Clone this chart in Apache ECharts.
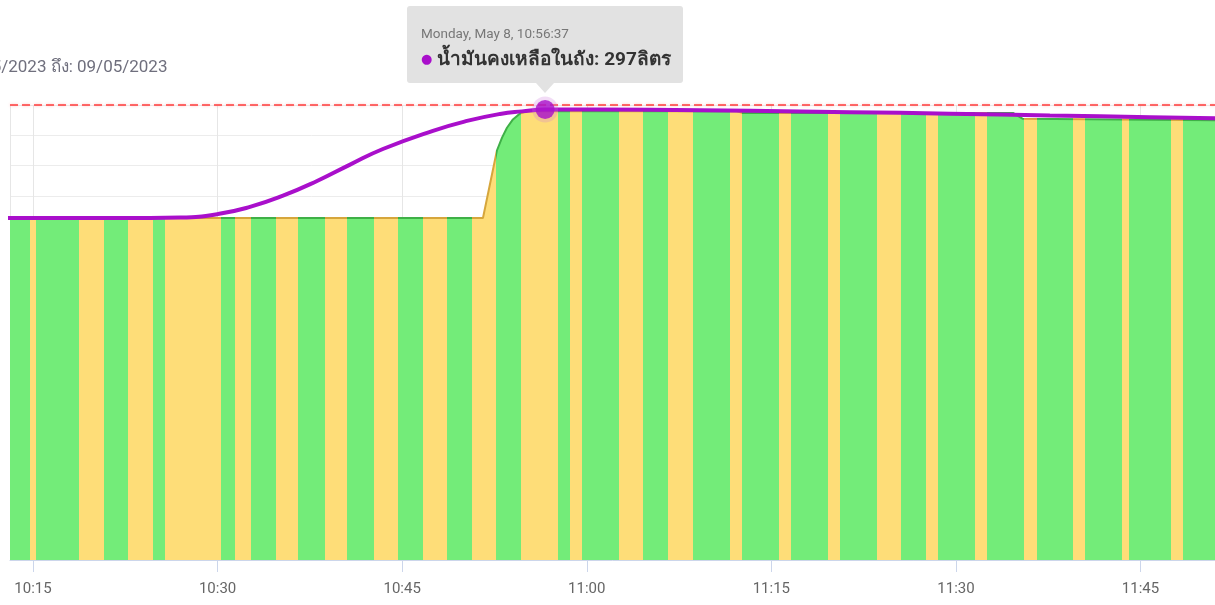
<!DOCTYPE html>
<html>
<head>
<meta charset="utf-8">
<script src="https://cdn.jsdelivr.net/npm/echarts@6/dist/echarts.min.js"></script>
<style>
html,body{margin:0;padding:0;background:#ffffff;}
#chart{width:1215px;height:605px;position:relative;}
</style>
</head>
<body>
<div id="chart"></div>
<script>
// ---------------- data ----------------
const chartDay = [2023, 4, 8];
const rangeText = '08/05/2023 ถึง: 09/05/2023';
const seriesName = 'น้ำมันคงเหลือในถัง';
const unitText = 'ลิตร';
const xRange = ['10:13:08', '11:51:03'];
const yMax = 300;
const yStep = 20;
const tankCapacity = 300;

// measured fuel level (zoned area)
const levelTimes  = ['10:12:00','10:51:34','10:52:42','10:53:07','10:53:31','10:54:00','10:54:34','10:55:08','10:56:37','11:12:12','11:12:37','11:34:38','11:35:26','11:52:00'];
const levelValues = [225.5,     225.5,     270.0,     278.5,     285.0,     290.5,     294.3,     295.8,     296.0,     295.8,     294.8,     294.8,     290.9,     289.9];

// smoothed remaining fuel (purple line)
const smoothTimes  = ['10:12:00','10:24:31','10:26:57','10:30:02','10:32:38','10:35:19','10:38:05','10:40:46','10:43:26','10:47:30','10:50:16','10:52:57','10:54:44','10:56:37','11:05:08','11:13:16','11:21:23','11:29:31','11:37:38','11:45:46','11:52:00'];
const smoothValues = [225.5,     225.5,     225.8,     228.1,     232.8,     240.2,     249.9,     260.7,     271.0,     283.0,     289.5,     294.1,     295.8,     297,       296.8,     296.2,     295.3,     294.3,     293.1,     292.0,     291.2];

// zone switches along time (G = green, Y = yellow)
const bandBreaks = ['10:14:45','10:15:15','10:18:44','10:20:46','10:22:43','10:24:45','10:25:44','10:30:17','10:31:25','10:32:43','10:34:45','10:36:32','10:38:44','10:40:31','10:42:42','10:44:39','10:46:41','10:48:38','10:50:40','10:52:37','10:54:39','10:57:40','10:58:38','10:59:37','11:02:37','11:04:34','11:06:36','11:08:38','11:11:38','11:12:37','11:15:37','11:16:35','11:19:36','11:20:34','11:23:35','11:25:32','11:27:34','11:28:32','11:31:33','11:32:31','11:35:31','11:36:35','11:39:30','11:40:29','11:43:29','11:44:03','11:47:28','11:48:27'];
const bandStates = ['G','Y','G','Y','G','Y','G','Y','G','Y','G','Y','G','Y','G','Y','G','Y','G','Y','G','Y','G','Y','G','Y','G','Y','G','Y','G','Y','G','Y','G','Y','G','Y','G','Y','G','Y','G','Y','G','Y','G','Y','G'];

const tipTime = '10:56:37';
const tipValue = 297;

// ---------------- styles ----------------
const fillColors = { G: '#73EC79', Y: '#FEDD78' };
const edgeColors = { G: '#3FB047', Y: '#D6A63C' };
const purple = '#A90FCB';
const FONT = "Roboto, 'Noto Sans', 'DejaVu Sans', sans-serif";

function T(s) {
  const p = s.split(':').map(Number);
  return new Date(chartDay[0], chartDay[1], chartDay[2], p[0], p[1], p[2] || 0).getTime();
}
const xMin = T(xRange[0]), xMax = T(xRange[1]);

function pieces(colors) {
  const out = [];
  const edges = [xMin - 3600000].concat(bandBreaks.map(T)).concat([xMax + 3600000]);
  for (let i = 0; i < bandStates.length; i++) {
    out.push({ gte: edges[i], lt: edges[i + 1], color: colors[bandStates[i]] });
  }
  return out;
}

const levelData = levelTimes.map((t, i) => [T(t), levelValues[i]]);
const smoothData = smoothTimes.map((t, i) => [T(t), smoothValues[i]]);

const days = ['Sunday','Monday','Tuesday','Wednesday','Thursday','Friday','Saturday'];
const months = ['Jan','Feb','Mar','Apr','May','Jun','Jul','Aug','Sep','Oct','Nov','Dec'];
function pad(n){ return (n < 10 ? '0' : '') + n; }

const chart = echarts.init(document.getElementById('chart'), null, { renderer: 'canvas' });

const option = {
  animation: false,
  textStyle: { fontFamily: FONT },
  grid: { left: 10, right: 0, top: 105, bottom: 45, containLabel: false },
  xAxis: {
    type: 'time',
    min: xMin,
    max: xMax,
    minInterval: 16 * 60000,
    maxInterval: 19 * 60000,
    axisLine: { show: true, lineStyle: { color: '#ccd6eb', width: 1 } },
    axisTick: { show: true, length: 12, lineStyle: { color: '#ccd6eb' } },
    axisLabel: {
      color: '#666666', fontSize: 15, fontFamily: FONT, margin: 22,
      formatter: function (v) { const d = new Date(v); return d.getHours() + ':' + pad(d.getMinutes()); }
    },
    splitLine: { show: true, lineStyle: { color: '#e6e6e6', width: 1 } }
  },
  yAxis: {
    type: 'value', min: 0, max: yMax, interval: yStep,
    axisLine: { show: false }, axisTick: { show: false }, axisLabel: { show: false },
    splitLine: { show: true, lineStyle: { color: '#ececec', width: 1 } }
  },
  visualMap: [
    { type: 'piecewise', show: false, dimension: 0, seriesIndex: 0, pieces: pieces(fillColors) },
    { type: 'piecewise', show: false, dimension: 0, seriesIndex: 1, pieces: pieces(edgeColors) }
  ],
  tooltip: {
    trigger: 'item',
    triggerOn: 'none',
    alwaysShowContent: true,
    transitionDuration: 0,
    backgroundColor: '#e2e2e2',
    borderWidth: 0,
    padding: [19, 14, 10, 14],
    extraCssText: 'box-shadow:none;border-radius:3px;',
    position: function (point, params, dom, rect, size) {
      return [point[0] - size.contentSize[0] / 2, point[1] - size.contentSize[1] - 27];
    },
    formatter: function (p) {
      const d = new Date(p.value[0]);
      const head = days[d.getDay()] + ', ' + months[d.getMonth()] + ' ' + d.getDate() + ', ' +
        pad(d.getHours()) + ':' + pad(d.getMinutes()) + ':' + pad(d.getSeconds());
      return '<div style="position:relative;width:248px;white-space:nowrap;font-family:' + FONT.replace(/'/g, '') + '">' +
        '<div style="font-size:13.5px;line-height:17px;color:#777777;">' + head + '</div>' +
        '<div style="font-size:19px;line-height:28px;color:#333333;margin-top:3px;">' +
        '<span style="color:' + purple + ';font-size:13px;vertical-align:2px;">●</span> ' +
        '<span style="font-weight:bold;">' + seriesName + ': ' + p.value[1] + unitText + '</span></div>' +
        '</div>' +
        '<div style="position:absolute;left:50%;bottom:-10px;margin-left:-9px;width:0;height:0;' +
        'border-left:9px solid transparent;border-right:9px solid transparent;border-top:10px solid #e2e2e2;"></div>';
    }
  },
  graphic: [
    { type: 'text', x: -44, y: 68, silent: true,
      style: { text: rangeText, fill: '#6f6f7d', font: '17px ' + FONT, verticalAlign: 'middle' } }
  ],
  series: [
    {
      name: 'level-fill', type: 'line', data: levelData, showSymbol: false, silent: true,
      lineStyle: { width: 0 }, areaStyle: { opacity: 1 }, z: 2, tooltip: { show: false }
    },
    {
      name: 'level-edge', type: 'line', data: levelData, showSymbol: false, silent: true,
      lineStyle: { width: 2 }, z: 3, tooltip: { show: false }
    },
    {
      name: seriesName, type: 'line', data: smoothData, showSymbol: false, silent: true,
      smooth: 0.5,
      lineStyle: { width: 4, color: purple }, itemStyle: { color: purple }, z: 4, tooltip: { show: false },
      markLine: {
        silent: true, symbol: 'none', label: { show: false },
        lineStyle: { color: '#ff3d3d', type: [8, 4], width: 1.5, shadowColor: 'rgba(255,60,60,0.35)', shadowBlur: 3 },
        data: [{ yAxis: tankCapacity }]
      }
    },
    {
      name: 'halo', type: 'scatter', data: [[T(tipTime), tipValue]], symbolSize: 26, silent: true,
      itemStyle: { color: 'rgba(205,120,220,0.33)' }, z: 5, tooltip: { show: false }
    },
    {
      name: seriesName, type: 'scatter', data: [[T(tipTime), tipValue]], symbolSize: 19,
      itemStyle: { color: purple }, emphasis: { disabled: true }, z: 6
    }
  ]
};

chart.setOption(option);
chart.dispatchAction({ type: 'showTip', seriesIndex: 4, dataIndex: 0 });
</script>
</body>
</html>
